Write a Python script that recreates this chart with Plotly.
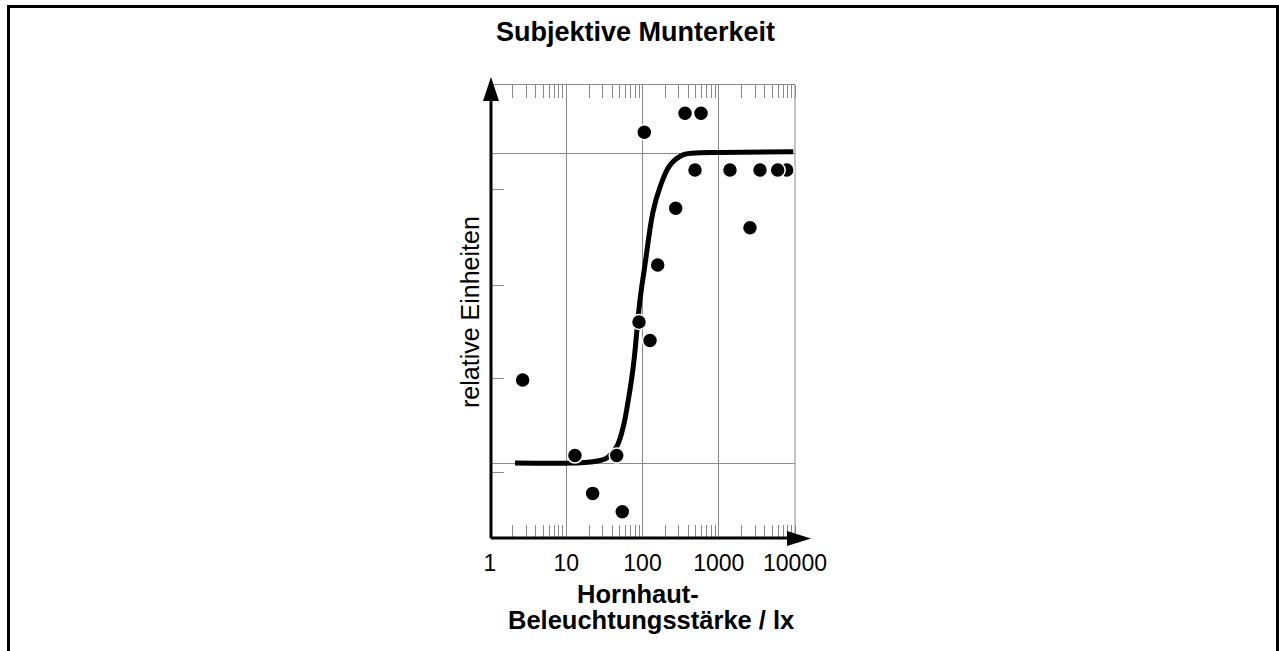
import plotly.graph_objects as go

# ---- data ----
lux_values = [2.68, 13.0, 45.9, 22.2, 54.3, 90.0, 125.5, 158.2, 105.6, 272.5,
              336.7, 360.9, 585.2, 488.2, 1404, 2569, 3475, 7783, 5932, 8861]
munterkeit_values = [26.8, 2.4, 2.4, -9.8, -15.7, 45.5, 39.5, 63.9, 106.7, 82.2,
                     131.1, 112.8, 112.8, 94.5, 94.5, 75.9, 94.5, 94.5, 94.5, 125.4]

curve_lux = [2.13, 12.3, 20.5, 33.9, 45.9, 56.0, 65.1, 75.7, 83.9, 92.7,
             107.8, 137.3, 169.6, 229.5, 339.7, 567.7, 1038, 9500]
curve_values = [0.0, 0.0, 0.3, 1.6, 5.3, 11.7, 20.3, 31.1, 41.9, 52.6,
                64.0, 81.0, 89.0, 96.1, 99.4, 100.1, 100.2, 100.4]

x_tick_values = [1, 10, 100, 1000, 10000]
x_tick_labels = ["1", "10", "100", "1000", "10000"]
y_tick_values = [-3.2, 27.1, 57.4, 88.1]
y_grid_values = [0, 100]

title_text = "Subjektive Munterkeit"
y_title_text = "relative Einheiten"
x_title_line1 = "Hornhaut-"
x_title_line2 = "Beleuchtungsstärke / lx"

FONT = "Liberation Sans, Arial, sans-serif"
GRAY = "#8a8a8a"

# geometry in page pixels
W, H = 1279, 651
L, R, T, B = 490, 795, 85, 538
PW, PH = R - L, B - T


def px(x):
    return (x - L) / PW


def py(y):
    return (B - y) / PH


fig = go.Figure()

fig.add_trace(go.Scatter(
    x=curve_lux, y=curve_values, mode="lines",
    line=dict(color="black", width=5, shape="spline", smoothing=1.0),
    hoverinfo="skip", showlegend=False,
))
fig.add_trace(go.Scatter(
    x=lux_values, y=munterkeit_values, mode="markers",
    marker=dict(color="black", size=15, line=dict(color="white", width=1.5)),
    cliponaxis=False, showlegend=False,
))

shapes = [
    # outer frame
    dict(type="rect", xref="paper", yref="paper",
         x0=px(8.5), x1=px(1277.5), y0=py(720), y1=py(6.5),
         line=dict(color="black", width=3), layer="above"),
    # right border line at 10000
    dict(type="line", xref="paper", yref="paper", x0=1, x1=1, y0=0, y1=1,
         line=dict(color=GRAY, width=1), layer="below"),
    # bottom axis (thick) with arrow
    dict(type="line", xref="paper", yref="paper", x0=px(491), x1=px(795), y0=0, y1=0,
         line=dict(color="black", width=3), layer="above"),
    dict(type="path", xref="paper", yref="paper",
         path=f"M {px(787)} {py(531)} L {px(811)} {py(538.5)} L {px(787)} {py(546)} Z",
         fillcolor="black", line=dict(color="black", width=0), layer="above"),
    # left axis (thick) with arrow
    dict(type="line", xref="paper", yref="paper", x0=px(491), x1=px(491), y0=0, y1=py(95),
         line=dict(color="black", width=3), layer="above"),
    dict(type="path", xref="paper", yref="paper",
         path=f"M {px(483)} {py(101)} L {px(491)} {py(77)} L {px(499)} {py(101)} Z",
         fillcolor="black", line=dict(color="black", width=0), layer="above"),
]

annotations = [
    dict(text=f"<b>{title_text}</b>", xref="paper", yref="paper",
         x=px(635.5), y=py(32), xanchor="center", yanchor="middle", showarrow=False,
         font=dict(family=FONT, size=27, color="black")),
    dict(text=f"<b>{x_title_line1}</b>", xref="paper", yref="paper",
         x=px(638), y=py(594), xanchor="center", yanchor="middle", showarrow=False,
         font=dict(family=FONT, size=25.5, color="black")),
    dict(text=f"<b>{x_title_line2}</b>", xref="paper", yref="paper",
         x=px(650.5), y=py(620), xanchor="center", yanchor="middle", showarrow=False,
         font=dict(family=FONT, size=25.5, color="black")),
    dict(text=y_title_text, xref="paper", yref="paper",
         x=px(470), y=py(312), xanchor="center", yanchor="middle", showarrow=False,
         textangle=-90, font=dict(family=FONT, size=25, color="black")),
]

fig.update_layout(
    width=W, height=H,
    margin=dict(l=L, r=W - R, t=T, b=H - B, pad=0),
    paper_bgcolor="white", plot_bgcolor="white",
    shapes=shapes, annotations=annotations,
    showlegend=False,
)

fig.update_xaxes(
    type="log", range=[0, 4],
    tickvals=x_tick_values, ticktext=x_tick_labels,
    tickfont=dict(family=FONT, size=23, color="black"),
    ticklabelstandoff=4,
    ticks="", showgrid=True, gridcolor=GRAY, gridwidth=1,
    showline=True, linecolor=GRAY, linewidth=1, mirror="ticks",
    zeroline=False,
    minor=dict(ticks="inside", ticklen=13, tickcolor=GRAY, tickwidth=1,
               showgrid=False, dtick="D1"),
)
fig.update_yaxes(
    range=[(463 - 538) / 3.1, (463 - 85) / 3.1],
    tickvals=y_tick_values, showticklabels=False,
    ticks="inside", ticklen=14, tickcolor=GRAY, tickwidth=1,
    showgrid=False, showline=False, zeroline=False,
    minor=dict(tickvals=y_grid_values, showgrid=True, gridcolor=GRAY, gridwidth=1,
               ticks=""),
)

fig.write_html(
    "out.html",
    config={"displayModeBar": False},
    post_script="document.body.style.margin='0';document.body.style.overflow='hidden';",
)
